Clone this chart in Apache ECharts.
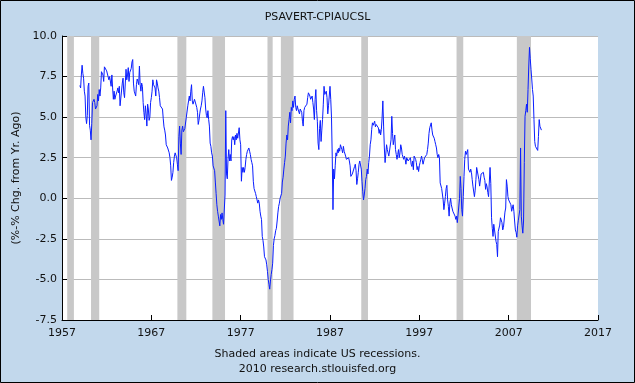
<!DOCTYPE html>
<html>
<head>
<meta charset="utf-8">
<script src="https://cdn.jsdelivr.net/npm/echarts@6/dist/echarts.min.js"></script>
<style>
html,body{margin:0;padding:0;background:#C2D8EC;}
#chart{width:635px;height:383px;}
</style>
</head>
<body>
<div id="chart"></div>
<script>
// Monthly values of PSAVERT minus CPI YoY % change, starting January 1959
const startYear = 1959;
const vals1950s = [6.95, 6.8, 7.6, 8.2, 7.7, 7.4, 6.6, 6.3, 5.0, 4.6, 5.1, 6.9];
const vals1960s = [
  7.1, 4.5, 4.2, 3.6, 4.6, 5.9, 6.0, 6.1, 5.9, 5.5, 5.4, 5.7,
  6.4, 6.0, 6.7, 6.3, 6.8, 7.8, 7.85, 7.6, 7.2, 8.1, 8.15, 8.05,
  7.85, 7.9, 7.75, 7.3, 7.5, 7.4, 6.9, 7.6, 6.8, 6.1, 6.6, 6.1,
  6.3, 6.3, 6.6, 6.8, 6.5, 6.9, 5.7, 5.8, 5.7, 7.1, 7.4, 6.5,
  6.2, 6.3, 7.95, 7.3, 7.6, 8.05, 7.2, 7.75, 7.8, 8.0, 8.4, 8.55,
  7.1, 6.6, 6.6, 6.3, 7.0, 7.35, 7.2, 7.0, 8.15, 7.0, 6.6, 7.1,
  6.9, 5.9, 5.3, 4.85, 5.7, 5.2, 4.45, 5.8, 5.5, 4.8, 5.0, 5.9,
  6.2, 6.6, 7.3, 7.0, 6.9, 6.8, 6.3, 7.3, 7.1, 6.8, 6.6, 6.2,
  5.7, 5.6, 5.8, 5.5, 4.9, 4.4, 4.2, 3.9, 3.3, 3.2, 3.1, 3.2,
  2.8, 2.5, 2.0, 1.1, 1.3, 1.6, 2.2, 2.6, 2.8, 2.7, 2.5, 2.1
];
const vals1970s = [
  1.7, 3.8, 4.45, 3.4, 2.7, 4.2, 4.45, 4.1, 4.2, 4.3, 4.4, 5.0,
  5.0, 5.7, 6.0, 6.3, 6.0, 6.6, 7.0, 6.0, 5.8, 5.9, 6.1, 6.2,
  6.1, 5.6, 5.3, 4.55, 4.8, 5.2, 5.5, 5.7, 6.0, 6.5, 6.9, 6.9,
  6.2, 5.5, 5.1, 4.96, 5.4, 4.86, 4.45, 3.4, 3.2, 2.8, 2.6, 2.0,
  2.0, 1.7, 1.0, 0.3, -0.4, -0.8, -1.1, -1.4, -1.7, -1.0, -1.3, -0.9,
  -1.3, -1.6, -1.7, 0.2, 5.4, 1.5, 1.2, 2.4, 3.0, 2.3, 2.7, 2.3,
  3.6, 3.8, 3.6, 3.8, 3.3, 3.9, 3.6, 4.0, 3.7, 3.8, 4.35, 3.6,
  3.3, 1.05, 1.9, 1.6, 1.9, 1.6, 1.9, 2.4, 2.7, 2.9, 3.0, 3.1,
  2.9, 2.7, 2.4, 2.2, 2.0, 1.05, 0.6, 0.5, 0.3, 0.1, -0.1, -0.3,
  -0.1, -0.3, -0.8, -1.1, -1.3, -2.35, -2.6, -3.0, -3.6, -3.7, -3.8, -4.1
];
const vals1980s = [
  -4.5, -5.0, -5.3, -5.6, -5.1, -4.7, -4.4, -4.0, -2.9, -2.5, -2.3, -2.0,
  -1.85, -1.4, -0.9, -0.5, -0.3, 0.0, 0.1, 0.3, 1.0, 1.3, 1.8, 2.2,
  2.6, 3.4, 3.9, 3.6, 4.45, 4.85, 5.3, 4.65, 5.6, 5.4, 6.0, 5.6,
  6.1, 6.3, 5.6, 5.4, 5.7, 5.5, 5.6, 5.2, 5.5, 5.4, 5.3, 4.75,
  4.45, 5.4, 5.6, 5.7, 5.5, 5.8, 6.2, 6.5, 6.5, 6.3, 6.1, 6.1,
  6.3, 5.9, 5.5, 4.85, 6.1, 6.7, 5.4, 4.75, 3.4, 3.0, 4.3, 4.8,
  3.5, 4.2, 4.86, 5.8, 6.9, 6.4, 6.3, 6.6, 6.2, 5.2, 5.7, 5.6,
  6.9, 6.1, 5.0, 2.6, -0.7, 1.8, 1.2, 2.0, 2.8, 2.6, 3.0, 2.8,
  3.1, 2.9, 3.3, 3.2, 3.0, 2.8, 3.2, 2.9, 2.8, 2.6, 2.4, 2.3,
  2.4, 2.5, 2.3, 2.0, 1.35, 1.4, 1.5, 1.4, 1.6, 1.96, 2.1, 1.7
];
const vals1990s = [
  0.85, 1.2, 1.6, 2.1, 2.3, 2.4, 1.8, 1.05, 0.4, -0.1, 0.2, 0.6,
  1.15, 1.35, 1.8, 1.5, 2.2, 2.6, 3.3, 3.6, 4.25, 4.65, 4.5, 4.6,
  4.75, 4.4, 4.55, 4.45, 4.65, 4.34, 4.0, 4.24, 3.9, 4.24, 5.0, 6.0,
  4.45, 3.1, 2.2, 2.3, 3.3, 3.0, 2.8, 2.6, 2.7, 2.5, 3.6, 5.05,
  4.0, 3.3, 3.6, 3.9, 3.0, 2.7, 2.4, 2.7, 3.0, 2.5, 2.8, 3.3,
  3.1, 2.7, 2.8, 2.4, 2.6, 2.4, 2.1, 2.5, 2.5, 2.3, 2.4, 2.2,
  2.5, 2.1, 1.96, 2.3, 1.76, 2.6, 2.6, 2.4, 2.2, 1.76, 1.96, 1.65,
  2.0, 2.2, 2.4, 2.6, 2.6, 2.1, 2.3, 2.5, 2.6, 2.4, 2.7, 3.0,
  3.4, 4.0, 4.35, 4.45, 4.65, 4.2, 3.9, 3.8, 3.7, 3.5, 3.3, 3.1,
  2.7, 2.5, 2.7, 2.5, 0.95, 0.9, 0.6, 0.7, -0.1, -0.7, -0.3, 0.1
];
const vals2000s = [
  0.6, 0.8, -0.1, -0.5, -1.1, -0.3, 0.0, -0.4, -0.6, -0.8, -0.9, -0.7,
  -1.1, -1.3, -1.1, -1.5, -1.6, -1.4, 0.0, 1.35, 0.6, -0.7, -1.1, 0.1,
  1.35, 2.4, 2.9, 2.7, 2.8, 3.0, 1.8, 1.9, 1.6, 1.8, 1.6, 1.15,
  0.75, 0.65, 0.1, 0.5, 1.15, 1.9, 2.0, 1.8, 1.15, 0.75, 0.65, 1.5,
  1.6, 1.5, 1.6, 1.3, 1.1, 0.55, 0.9, 0.7, 0.35, 0.1, 0.2, 1.9,
  0.9, -1.2, -1.85, -2.35, -1.6, -1.95, -1.85, -2.65, -2.85, -3.6, -2.05, -1.95,
  -1.65, -1.2, -1.2, -1.5, -1.95, -1.8, -1.85, -0.85, -0.6, 1.15, 0.75, 0.1,
  -0.1, -0.1, -0.05, -0.4, -0.8, -0.6, -0.4, -0.8, -1.4, -1.95, -2.1, -2.4,
  -1.7, -1.35, -1.25, -0.7, 3.1, -1.1, -1.7, -2.15, -1.4, 2.2, 5.05, 5.4,
  5.8, 5.3, 6.7, 8.15, 9.3, 8.6, 7.95, 7.35, 6.7, 6.3, 4.85, 3.5
];
const vals2010s = [3.2, 3.1, 3.3, 2.95, 3.8, 4.85, 4.44, 4.55, 4.2];

// NBER recessions (peak month, trough month)
const recessions = [
  ['1957-08', '1958-04'], ['1960-04', '1961-02'], ['1969-12', '1970-11'],
  ['1973-11', '1975-03'], ['1980-01', '1980-07'], ['1981-07', '1982-11'],
  ['1990-07', '1991-03'], ['2001-03', '2001-11'], ['2007-12', '2009-06']
];

const yTicks = [-7.5, -5.0, -2.5, 0.0, 2.5, 5.0, 7.5, 10.0];
const xTicks = [1957, 1967, 1977, 1987, 1997, 2007, 2017];

const allVals = [].concat(vals1950s, vals1960s, vals1970s, vals1980s, vals1990s, vals2000s, vals2010s);
const seriesData = allVals.map((v, i) => [startYear + i / 12, v]);

function ym(s, addMonth) {
  const [y, m] = s.split('-').map(Number);
  return y + (m - 1 + (addMonth ? 1 : 0)) / 12;
}
const recessionAreas = recessions.map(r => [{ xAxis: ym(r[0], false) }, { xAxis: ym(r[1], true) }]);

const FONT = 'DejaVu Sans';
const chart = echarts.init(document.getElementById('chart'), null, { renderer: 'canvas' });
chart.setOption({
  backgroundColor: '#C2D8EC',
  animation: false,
  title: {
    text: 'PSAVERT-CPIAUCSL',
    left: 'center',
    top: 7,
    textStyle: { fontFamily: FONT, fontSize: 11, fontWeight: 'normal', color: '#111' }
  },
  grid: {
    left: 62, right: 37, top: 36, bottom: 63,
    show: true, backgroundColor: '#FFFFFF', borderWidth: 0
  },
  xAxis: {
    type: 'value',
    min: xTicks[0], max: xTicks[xTicks.length - 1], interval: 10,
    axisLine: { show: true, onZero: false, lineStyle: { color: '#000', width: 1 } },
    axisTick: { show: true, inside: true, length: 5, lineStyle: { color: '#000' } },
    axisLabel: { fontFamily: FONT, fontSize: 11, color: '#111', margin: 8, formatter: v => String(v) },
    splitLine: { show: false }
  },
  yAxis: {
    type: 'value',
    min: yTicks[0], max: yTicks[yTicks.length - 1], interval: 2.5,
    name: '(%-% Chg. from Yr. Ago)',
    nameLocation: 'middle',
    nameGap: 39,
    nameTextStyle: { fontFamily: FONT, fontSize: 11, color: '#111' },
    axisLine: { show: true, onZero: false, lineStyle: { color: '#000', width: 1 } },
    axisTick: { show: true, inside: true, length: 5, lineStyle: { color: '#000' } },
    axisLabel: { fontFamily: FONT, fontSize: 11, color: '#111', margin: 5, formatter: v => v.toFixed(1) },
    splitLine: { show: true, lineStyle: { color: '#BBBBBB', width: 1 } }
  },
  graphic: [
    { type: 'text', left: 'center', top: 349,
      style: { text: 'Shaded areas indicate US recessions.', fontFamily: FONT, fontSize: 11, fill: '#111' } },
    { type: 'text', left: 'center', top: 364,
      style: { text: '2010 research.stlouisfed.org', fontFamily: FONT, fontSize: 11, fill: '#111' } },
    { type: 'rect', shape: { x: 0.5, y: 0.5, width: 634, height: 382 },
      style: { fill: 'none', stroke: '#000', lineWidth: 1 }, z: 100, silent: true }
  ],
  series: [
    {
      type: 'line', data: [], z: 1, silent: true,
      markArea: { silent: true, itemStyle: { color: '#C8C8C8', opacity: 1 }, data: recessionAreas }
    },
    {
      type: 'line', data: seriesData, z: 3,
      showSymbol: false, symbol: 'none', sampling: 'none',
      lineStyle: { color: '#0A1EFF', width: 1 }
    }
  ]
});
</script>
</body>
</html>
